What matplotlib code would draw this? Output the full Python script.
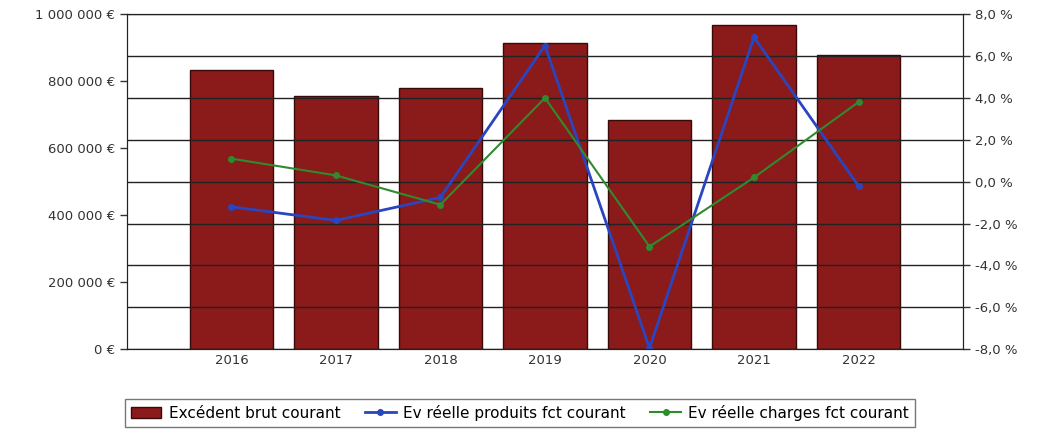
import matplotlib.pyplot as plt

annees = ["2016", "2017", "2018", "2019", "2020", "2021", "2022"]
excedent = [833000, 755000, 779000, 913000, 684000, 967000, 878000]
ev_produits = [-1.2, -1.85, -0.75, 6.5, -7.95, 6.9, -0.2]
ev_charges = [1.1, 0.3, -1.1, 4.0, -3.1, 0.2, 3.8]

x = list(range(1, len(annees) + 1))

fig = plt.figure(figsize=(10.4, 4.29), dpi=100)
ax = fig.add_axes([0.122, 0.186, 0.804, 0.781])
ax2 = ax.twinx()

# grille alignée sur l'axe de droite
for v in range(-8, 9, 2):
    ax2.axhline(v, color="#222222", lw=1, zorder=0)

ax.bar(x, excedent, width=0.8, color="#8b1a1a", edgecolor="#3a0a0a", lw=1,
       label="Excédent brut courant", zorder=2)
ax.set_zorder(1)
ax2.set_zorder(2)
ax.patch.set_visible(False)
ax2.patch.set_visible(False)

ax2.plot(x, ev_produits, color="#2a45c0", lw=2, marker="o", ms=4,
         label="Ev réelle produits fct courant")
ax2.plot(x, ev_charges, color="#2e8b2e", lw=1.5, marker="o", ms=4,
         label="Ev réelle charges fct courant")

ax.set_xlim(0, 8)
ax.set_ylim(0, 1000000)
ax2.set_ylim(-8, 8)
ax.set_xticks(x)
ax.set_xticklabels(annees)
ax.set_yticks(range(0, 1000001, 200000))
ax.set_yticklabels([f"{v:,}".replace(",", " ") + " €" for v in range(0, 1000001, 200000)])
ax2.set_yticks(range(-8, 9, 2))
ax2.set_yticklabels([f"{v:.1f}".replace(".", ",") + " %" for v in range(-8, 9, 2)])

for a in (ax, ax2):
    a.tick_params(labelsize=9.5, colors="#333333", length=5, width=1)
    for s in a.spines.values():
        s.set_color("#222222")
ax.tick_params(axis="x", length=0)

h1, l1 = ax.get_legend_handles_labels()
h2, l2 = ax2.get_legend_handles_labels()
fig.legend(h1 + h2, l1 + l2, loc="lower center", bbox_to_anchor=(0.5, 0.005),
           ncol=3, fontsize=11, frameon=True, fancybox=False,
           edgecolor="#555555", handlelength=2.0, columnspacing=1.6,
           handletextpad=0.5, borderpad=0.4, borderaxespad=0)

plt.savefig("out.png", dpi=100)
